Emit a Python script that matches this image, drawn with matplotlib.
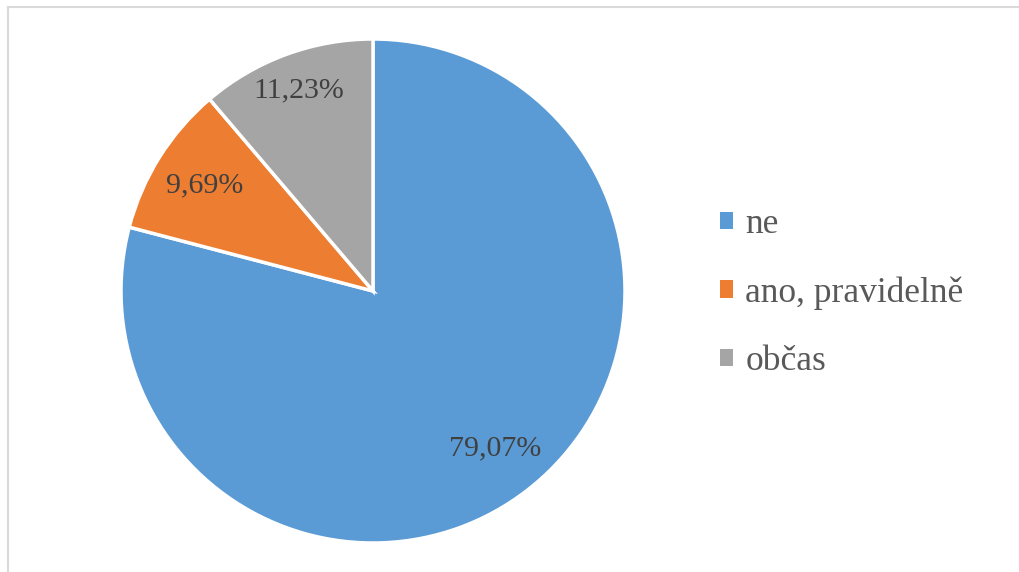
import matplotlib
matplotlib.use("Agg")
import matplotlib.pyplot as plt
from matplotlib.patches import Patch
from matplotlib.lines import Line2D
import numpy as np

categories = ["ne", "ano, pravidelně", "občas"]
shares = [79.07, 9.69, 11.23]
colors = ["#5B9BD5", "#ED7D31", "#A5A5A5"]
label_dist = [0.79, 0.79, 0.85]

plt.rcParams["font.family"] = ["Liberation Serif", "DejaVu Serif"]

W, H = 1020, 572
fig = plt.figure(figsize=(W / 100, H / 100), dpi=100)
fig.patch.set_facecolor("white")

# chart-area frame (top and left edges visible)
fig.add_artist(Line2D([8 / W, 1], [1 - 7 / H, 1 - 7 / H], transform=fig.transFigure,
                      color="#D9D9D9", lw=1.5))
fig.add_artist(Line2D([8 / W, 8 / W], [0, 1 - 7 / H], transform=fig.transFigure,
                      color="#D9D9D9", lw=1.5))

cx, cy, r = 373, 291, 252
ax = fig.add_axes([(cx - r) / W, (H - cy - r) / H, 2 * r / W, 2 * r / H])

def fmt(v):
    return f"{v:.2f}".replace(".", ",") + "%"

wedges, _ = ax.pie(
    shares, colors=colors, startangle=90, counterclock=False,
    wedgeprops=dict(edgecolor="white", linewidth=2.5),
)
for w, v, d in zip(wedges, shares, label_dist):
    ang = np.deg2rad((w.theta1 + w.theta2) / 2)
    ax.text(d * np.cos(ang), d * np.sin(ang), fmt(v), ha="center", va="center",
            color="#404040", fontsize=21.5)
ax.set_xlim(-1, 1)
ax.set_ylim(-1, 1)
ax.set_aspect("equal")

handles = [Patch(facecolor=c, edgecolor="none") for c in colors]
leg = fig.legend(handles, categories, loc="center left",
                 bbox_to_anchor=(720 / W, (H - 293) / H),
                 frameon=False, fontsize=25.5, borderpad=0, borderaxespad=0,
                 handlelength=0.37, handleheight=0.37, handletextpad=0.34,
                 labelspacing=1.0)
for t in leg.get_texts():
    t.set_color("#595959")

fig.savefig("out.png", dpi=100, facecolor="white")
